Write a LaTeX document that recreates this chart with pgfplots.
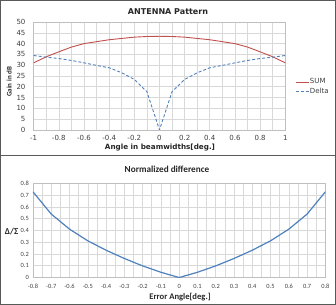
\documentclass[border=0pt]{standalone}
\usepackage{pgfplots}
\pgfplotsset{compat=1.18}
\usepackage{fontspec}
\setmainfont{DejaVu Sans}
\newfontfamily\carlito{Carlito}

\definecolor{sumred}{HTML}{C0504D}
\definecolor{deltablue}{HTML}{4F81BD}
\definecolor{gridgray}{HTML}{D9D9D9}
\definecolor{axisgray}{HTML}{BFBFBF}
\definecolor{labelgray}{HTML}{404040}
\definecolor{framegray}{HTML}{595959}

\begin{document}
\begin{tikzpicture}[x=1pt,y=1pt]
% panel frames
\draw[framegray, line width=1.2pt] (1,1) rectangle (335,304);
\draw[framegray, line width=1.2pt] (1,149.5) -- (335,149.5);

% ---------- antenna pattern ----------
\begin{axis}[
  at={(34pt,175pt)}, anchor=south west,
  scale only axis, width=251pt, height=107.6pt,
  xmin=-1, xmax=1, ymin=0, ymax=50,
  xtick={-1,-0.8,...,1.01},
  xticklabels={-1,-0.8,-0.6,-0.4,-0.2,0,0.2,0.4,0.6,0.8,1},
  ytick={0,5,...,50},
  minor x tick num=1,
  grid=both,
  major grid style={gridgray, line width=0.6pt},
  minor grid style={gridgray, line width=0.6pt},
  axis line style={axisgray, line width=0.6pt},
  major tick length=0pt, minor tick length=0pt,
  /pgf/number format/assume math mode=true,
  tick label style={font=\fontsize{7}{8}\selectfont, text=labelgray, inner sep=0pt},
  xticklabel style={anchor=center, yshift=-8pt},
  yticklabel style={anchor=east, xshift=-8pt},
  legend style={at={(axis description cs:1.04,0.4)}, anchor=west, draw=none,
    fill=none, font=\fontsize{7}{8}\selectfont, text=labelgray,
    inner sep=0pt, row sep=1.5pt,
    nodes={inner sep=0.5pt}},
  legend cell align=left,
  legend image code/.code={\draw[#1] (0pt,0pt) -- (13pt,0pt);},
]
\addplot[sumred, line width=0.9pt] coordinates {
  (-1,31.1) (-0.9,33.9) (-0.8,36.2) (-0.7,38.4) (-0.6,40.0) (-0.5,40.9)
  (-0.4,41.8) (-0.3,42.4) (-0.2,43.0) (-0.1,43.3) (0,43.4)
  (0.1,43.3) (0.2,43.0) (0.3,42.4) (0.4,41.8) (0.5,40.9) (0.6,40.0)
  (0.7,38.4) (0.8,36.2) (0.9,33.9) (1,31.1)};
\addlegendentry{SUM}
\addplot[deltablue, line width=0.9pt, dash pattern=on 3pt off 2pt] coordinates {
  (-1,34.5) (-0.9,33.7) (-0.8,33.1) (-0.7,32.2) (-0.6,31.1) (-0.5,29.9)
  (-0.4,28.8) (-0.3,26.5) (-0.2,23.4) (-0.1,17.7) (0,0)
  (0.1,17.7) (0.2,23.4) (0.3,26.5) (0.4,28.8) (0.5,29.9) (0.6,31.1)
  (0.7,32.2) (0.8,33.1) (0.9,33.7) (1,34.5)};
\addlegendentry{Delta}
\end{axis}

\node[font=\bfseries\fontsize{8}{9}\selectfont, text=black!85] at (168,293) {ANTENNA Pattern};
\node[font=\bfseries\fontsize{7.2}{8}\selectfont, text=black!85] at (160,157) {Angle in beamwidths[deg.]};
\node[font=\carlito\bfseries\fontsize{7}{8}\selectfont, text=black!85, rotate=90] at (9.5,223) {Gain in dB};

% ---------- normalized difference ----------
\begin{axis}[
  at={(33.3pt,27.7pt)}, anchor=south west,
  scale only axis, width=291.7pt, height=94pt,
  xmin=-0.8, xmax=0.8, ymin=0, ymax=0.8,
  xtick={-0.8,-0.7,...,0.81},
  xticklabels={-0.8,-0.7,-0.6,-0.5,-0.4,-0.3,-0.2,-0.1,0,0.1,0.2,0.3,0.4,0.5,0.6,0.7,0.8},
  ytick={0,0.1,...,0.81},
  yticklabels={0,0.1,0.2,0.3,0.4,0.5,0.6,0.7,0.8},
  minor x tick num=1,
  grid=both,
  major grid style={gridgray, line width=0.6pt},
  minor grid style={gridgray, line width=0.6pt},
  axis line style={axisgray, line width=0.6pt},
  major tick length=0pt, minor tick length=0pt,
  /pgf/number format/assume math mode=true,
  tick label style={font=\carlito\fontsize{6.4}{7}\selectfont, text=labelgray, inner sep=0pt},
  xticklabel style={anchor=center, yshift=-8.7pt},
  yticklabel style={anchor=east, xshift=-4pt},
]
\addplot[deltablue, line width=1.2pt] coordinates {
  (-0.8,0.728) (-0.7,0.539) (-0.6,0.411) (-0.5,0.312) (-0.4,0.232)
  (-0.3,0.162) (-0.2,0.099) (-0.1,0.045) (0,0)
  (0.1,0.045) (0.2,0.099) (0.3,0.162) (0.4,0.232) (0.5,0.312)
  (0.6,0.411) (0.7,0.539) (0.8,0.728)};
\end{axis}

\node[font=\carlito\bfseries\fontsize{9.2}{10}\selectfont, text=black!85] at (167,135.7) {Normalized difference};
\node[font=\carlito\bfseries\fontsize{8.6}{9}\selectfont, text=black!85] at (180,8.3) {Error Angle[deg.]};
\node[font=\carlito\bfseries\fontsize{9}{10}\selectfont, text=black!85] at (12,74) {Δ/Σ};
\end{tikzpicture}
\end{document}
